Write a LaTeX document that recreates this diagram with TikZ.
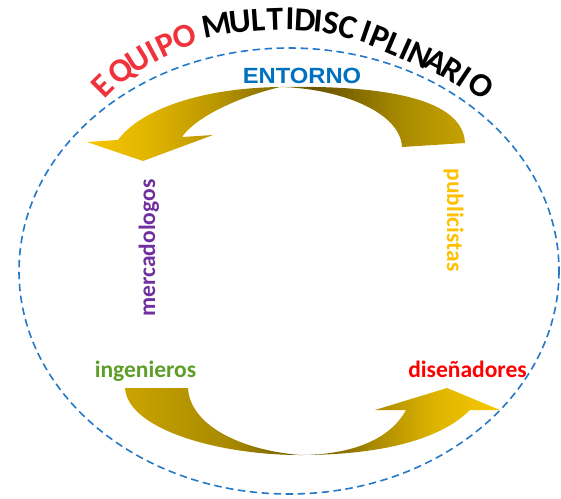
\documentclass[tikz,border=0pt]{standalone}
\usepackage{fontspec}
\setmainfont{Carlito}
\newfontfamily\arialfont{Liberation Sans}
\definecolor{eqred}{RGB}{240,50,60}
\definecolor{entblue}{RGB}{0,112,192}
\definecolor{mercpurple}{RGB}{112,48,160}
\definecolor{pubgold}{RGB}{255,192,0}
\definecolor{inggreen}{RGB}{92,158,40}
\definecolor{disred}{RGB}{255,0,0}
\definecolor{dashblue}{RGB}{35,120,200}
% top arrow colours
\definecolor{ta}{HTML}{F6C500}
\definecolor{tb}{HTML}{E2B500}
\definecolor{tc}{HTML}{BC9800}
\definecolor{td}{HTML}{816A00}
\definecolor{te}{HTML}{6B5700}
\definecolor{tf}{HTML}{7C6500}
\definecolor{tg}{HTML}{A88A00}
\definecolor{th}{HTML}{C6A200}
% bottom arrow colours
\definecolor{ba}{HTML}{CAA400}
\definecolor{bb}{HTML}{A68800}
\definecolor{bc}{HTML}{7D6600}
\definecolor{bd}{HTML}{6B5700}
\definecolor{be}{HTML}{816900}
\definecolor{bf}{HTML}{B29100}
\definecolor{bg}{HTML}{DDB300}
\definecolor{bh}{HTML}{F8C900}
\pgfdeclarehorizontalshading{topshade}{100bp}{color(0bp)=(ta); color(25bp)=(ta); color(32.9bp)=(tb); color(41.7bp)=(tc); color(50.5bp)=(td); color(54.9bp)=(te); color(59.4bp)=(tf); color(66.4bp)=(tg); color(75bp)=(th); color(100bp)=(th)}
\pgfdeclarehorizontalshading{botshade}{100bp}{color(0bp)=(ba); color(25bp)=(ba); color(39.4bp)=(bb); color(46.1bp)=(bc); color(49.3bp)=(bd); color(52.7bp)=(be); color(59.4bp)=(bf); color(66.1bp)=(bg); color(75bp)=(bh); color(100bp)=(bh)}
\tikzset{
  ring/.style={draw=dashblue, line width=1.6pt, dash pattern=on 7.5pt off 4.5pt},
  word/.style={inner sep=0pt, font=\fontsize{23.5}{23.5}\selectfont\bfseries},
  titlechar/.style={inner sep=0pt, anchor=center, text height=21.6pt, text depth=0pt,
    font=\fontsize{33.5}{33.5}\selectfont\bfseries},
}
\begin{document}
\begin{tikzpicture}[x=1pt,y=-1pt]
\useasboundingbox (0,0) rectangle (561,498);
% dashed ring
\draw[ring] (289,271) ellipse [x radius=270, y radius=223];
% top curved arrow
\shade[shading=topshade] (465,143) .. controls (463,100) and (390,85) .. (280,87)
  .. controls (200,88) and (140,110) .. (118,140)
  -- (87,142) -- (143,161) -- (213,135) -- (182,137)
  .. controls (195,118) and (235,98) .. (280,87)
  .. controls (335,88) and (400,110) .. (402,147) -- cycle;
% bottom curved arrow
\shade[shading=botshade] (125,388) .. controls (128,430) and (220,455) .. (300,455)
  .. controls (380,455) and (440,440) .. (470,410)
  -- (500,410) -- (447,388) -- (375,410) -- (406,410)
  .. controls (390,440) and (350,455) .. (300,455)
  .. controls (240,450) and (190,425) .. (188,388) -- cycle;
% title letters along the arc
\foreach \ch/\px/\py/\rt/\cl [count=\k] in {
  E/103/86/45/eqred, Q/121/71/38/eqred, U/138/60/32/eqred, I/152/52/28/eqred,
  P/166/45/25/eqred, O/184/36/20/eqred,
  M/217/25/11/black, U/240/22/6/black, L/258/20/4/black, T/275/19/2/black,
  I/290/19/-1/black, D/305/20/-3/black, I/318/21/-5/black, S/331/23/-10/black,
  C/348/27/-15/black, I/366/32/-19/black, P/380/38/-22/black, L/394/44/-23/black,
  I/406/49/-24/black, N/420/55/-25/black, A/437/62/-28/black, R/452/70/-31/black,
  I/464/77/-34/black, O/481/86/-37/black}
  \node[titlechar, text=\cl, rotate=\rt] (title\k) at (\px,\py) {\ch};
% labels
\node[inner sep=0pt, font=\arialfont\bfseries\fontsize{22}{22}\selectfont, text=entblue, xscale=1.08] (entorno) at (302,76) {ENTORNO};
\node[word, text=mercpurple, rotate=90, anchor=base] (merc) at (155,248) {mercadologos};
\node[word, text=pubgold, rotate=-90, anchor=base] (pub) at (447,220) {publicistas};
\node[word, text=inggreen, anchor=base] (ing) at (145.5,377) {ingenieros};
\node[word, text=disred, anchor=base] (dis) at (467.5,377) {diseñadores};
\end{tikzpicture}
\end{document}
